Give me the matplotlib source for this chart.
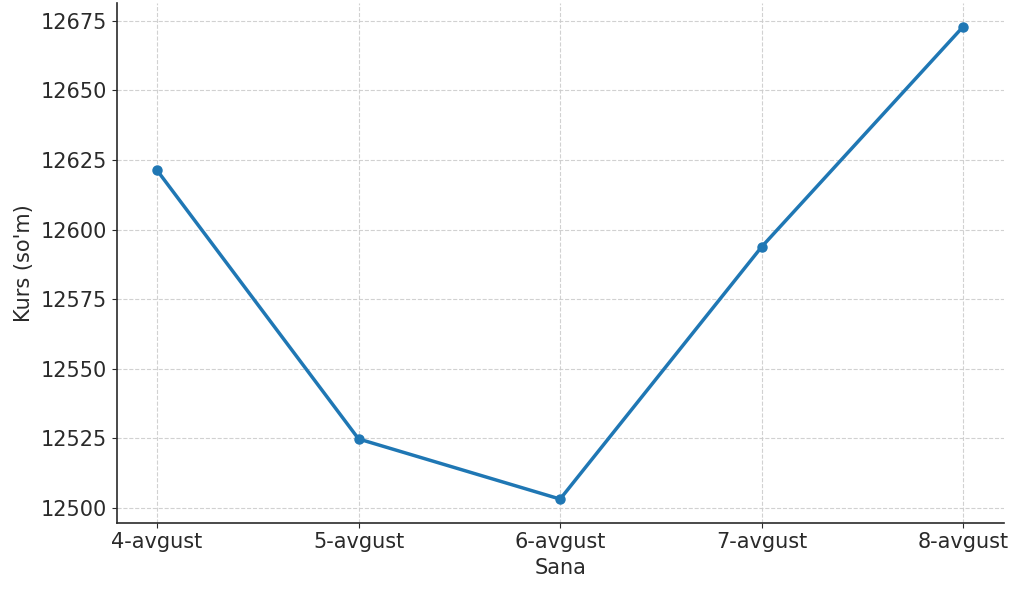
import matplotlib
matplotlib.use("Agg")
import matplotlib.pyplot as plt


DATES = ["4-avgust", "5-avgust", "6-avgust", "7-avgust", "8-avgust"]
RATES = [12621.3, 12524.8, 12503.2, 12593.8, 12672.9]

LINE_COLOR = "#1f77b4"


def main() -> None:
    fig, ax = plt.subplots(figsize=(10.24, 5.94), dpi=100)
    fig.subplots_adjust(left=0.114, right=0.980, top=0.995, bottom=0.12)

    ax.plot(DATES, RATES, color=LINE_COLOR, lw=2.5, marker="o", markersize=6.5)

    ax.set_xlabel("Sana", fontsize=15, color="#2a2a2a", labelpad=4)
    ax.set_ylabel("Kurs (so'm)", fontsize=15, color="#2a2a2a", labelpad=5)
    ax.set_yticks([12500, 12525, 12550, 12575, 12600, 12625, 12650, 12675])
    ax.tick_params(axis="both", labelsize=15, colors="#2a2a2a", labelcolor="#2a2a2a")
    ax.grid(True, ls="--", color="#cccccc", lw=0.8, alpha=0.9)

    for spine in ["top", "right"]:
        ax.spines[spine].set_visible(False)
    ax.spines["left"].set_color("#2a2a2a")
    ax.spines["bottom"].set_color("#2a2a2a")
    ax.spines["left"].set_linewidth(1.2)
    ax.spines["bottom"].set_linewidth(1.2)

    fig.savefig("out.png")
    plt.close(fig)


if __name__ == "__main__":
    main()
